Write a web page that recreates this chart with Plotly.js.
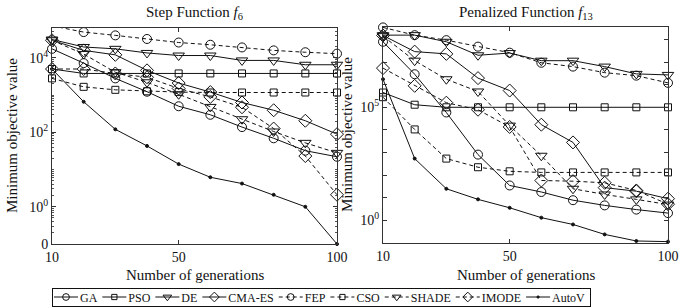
<!DOCTYPE html>
<html><head><meta charset="utf-8">
<script src="https://cdn.plot.ly/plotly-3.0.1.min.js"></script>
<style>html,body{margin:0;padding:0;background:#fff}</style>
</head><body><div id="chart" style="width:689px;height:307px"></div>
<script>
// ---- data ----
const generations = [10, 20, 30, 40, 50, 60, 70, 80, 90, 100];
const methods = ['GA', 'PSO', 'DE', 'CMA-ES', 'FEP', 'CSO', 'SHADE', 'IMODE', 'AutoV'];

// Step Function f6
const f6_GA    = [17400, 7200, 2800, 1230, 500, 295, 138, 69, 32, 22];
const f6_PSO   = [5000, 3800, 3800, 3800, 3800, 3800, 3800, 3800, 3800, 3800];
const f6_DE    = [31000, 19500, 17400, 13500, 11500, 11500, 8500, 8500, 6500, 6500];
const f6_CMAES = [29500, 15800, 12000, 4600, 2100, 1200, 630, 390, 204, 89];
const f6_FEP   = [72000, 49000, 40000, 32000, 25700, 22400, 19000, 15800, 14100, 12900];
const f6_CSO   = [2800, 1660, 1380, 1260, 1200, 1170, 1170, 1170, 1170, 1170];
const f6_SHADE = [29500, 12600, 4100, 2200, 1050, 480, 224, 105, 52, 28];
const f6_IMODE = [5000, 5000, 3800, 3000, 1500, 890, 470, 126, 23, 2.1];
const f6_AutoV = [5000, 660, 120, 43, 14, 6.2, 4.2, 2.1, 1.0, 0];

// Penalized Function f13
const f13_GA    = [7.9e7, 2.9e6, 59000, 810, 35, 18, 7.8, 4.6, 3.0, 2.1];
const f13_PSO   = [4.5e5, 1.3e5, 1.0e5, 1.0e5, 1.0e5, 1.0e5, 1.0e5, 1.0e5, 1.0e5, 1.0e5];
const f13_DE    = [1.55e8, 1.55e8, 7.9e7, 2.0e7, 2.5e7, 1.15e7, 1.15e7, 6.3e6, 3.0e6, 2.7e6];
const f13_CMAES = [1.5e8, 2.9e7, 2.3e7, 1.95e6, 5.5e5, 17000, 2800, 28, 19.5, 9.1];
const f13_FEP   = [3.4e8, 1.55e8, 9.3e7, 4.8e7, 2.6e7, 9.3e6, 6.3e6, 3.4e6, 2.5e6, 1.2e6];
const f13_CSO   = [2.8e5, 10500, 540, 224, 148, 132, 132, 132, 132, 132];
const f13_SHADE = [1.4e8, 1.15e7, 1.74e6, 5.0e5, 15500, 720, 25, 14, 8.5, 5.0];
const f13_IMODE = [5.4e6, 8.9e5, 1.6e5, 78000, 13500, 58, 54, 46, 21, 5.2];
const f13_AutoV = [1.74e6, 540, 25, 8.5, 3.6, 1.32, 0.66, 0.24, 0.123, 0.115];

// tick labels
const xTickVals = [10, 50, 100];
const f6TickVals = [0.1, 1, 100, 10000];
const f6TickText = ['0', '10<sup>0</sup>', '10<sup>2</sup>', '10<sup>4</sup>'];
const f13TickVals = [1, 1e5];
const f13TickText = ['10<sup>0</sup>', '10<sup>5</sup>'];

// ---- styles ----
const FONT = '"Liberation Serif", "Times New Roman", serif';
const INK = '#111';
const DASH = '4px,3px';
const styles = {
  'GA':     {dash: 'solid', symbol: 'circle-open', size: 9},
  'PSO':    {dash: 'solid', symbol: 'square-open', size: 7},
  'DE':     {dash: 'solid', symbol: 'triangle-down-open', size: 10},
  'CMA-ES': {dash: 'solid', symbol: 'diamond-open', size: 10},
  'FEP':    {dash: DASH, symbol: 'circle-open', size: 9},
  'CSO':    {dash: DASH, symbol: 'square-open', size: 7},
  'SHADE':  {dash: DASH, symbol: 'triangle-down-open', size: 10},
  'IMODE':  {dash: DASH, symbol: 'diamond-open', size: 10},
  'AutoV':  {dash: 'solid', symbol: 'circle', size: 3}
};
const f6Series = [f6_GA, f6_PSO, f6_DE, f6_CMAES, f6_FEP, f6_CSO, f6_SHADE, f6_IMODE, f6_AutoV];
const f13Series = [f13_GA, f13_PSO, f13_DE, f13_CMAES, f13_FEP, f13_CSO, f13_SHADE, f13_IMODE, f13_AutoV];
const zeroLevel = f6TickVals[0]; // a value of 0 is drawn at the "0" tick of the f6 axis

function mk(name, ys, xa, ya, showLegend) {
  const s = styles[name];
  return {
    x: generations,
    y: ys.map(v => v > 0 ? v : zeroLevel),
    xaxis: xa, yaxis: ya, name: name, showlegend: showLegend,
    mode: 'lines+markers', cliponaxis: false,
    line: {color: INK, width: 1, dash: s.dash},
    marker: {symbol: s.symbol, size: s.size, color: INK, line: {color: INK, width: 1}}
  };
}
const traces = [];
methods.forEach((m, i) => traces.push(mk(m, f6Series[i], 'x', 'y', true)));
methods.forEach((m, i) => traces.push(mk(m, f13Series[i], 'x2', 'y2', false)));

const W = 689, H = 307;
const axisCommon = {
  showline: true, linecolor: '#333', linewidth: 1, mirror: 'ticks',
  ticks: 'inside', ticklen: 4, tickcolor: '#333', showgrid: false, zeroline: false,
  tickfont: {family: FONT, size: 14, color: INK}, automargin: false
};
const titleFont = {family: FONT, size: 15, color: INK};
function note(text, xpx, ypx, angle) {
  return {text: text, xref: 'paper', yref: 'paper', x: xpx / W, y: 1 - ypx / H,
    xanchor: 'center', yanchor: 'middle', showarrow: false, textangle: angle || 0, font: titleFont};
}
const layout = {
  width: W, height: H, margin: {l: 0, r: 0, t: 0, b: 0, autoexpand: false},
  paper_bgcolor: '#fff', plot_bgcolor: '#fff',
  font: {family: FONT, color: INK},
  xaxis: Object.assign({}, axisCommon, {
    domain: [52 / W, 337 / W], range: [10, 100], tickmode: 'array', tickvals: xTickVals
  }),
  yaxis: Object.assign({}, axisCommon, {
    domain: [1 - 244 / H, 1 - 28 / H], type: 'log', range: [-1, 4.8],
    tickmode: 'array', tickvals: f6TickVals, ticktext: f6TickText,
    minor: {ticks: 'inside', ticklen: 2, tickcolor: '#555', dtick: 'D1'}
  }),
  xaxis2: Object.assign({}, axisCommon, {
    domain: [383 / W, 668 / W], range: [10, 100], tickmode: 'array', tickvals: xTickVals, anchor: 'y2'
  }),
  yaxis2: Object.assign({}, axisCommon, {
    domain: [1 - 243 / H, 1 - 27 / H], type: 'log', range: [-1, 8.55], anchor: 'x2',
    tickmode: 'array', tickvals: f13TickVals, ticktext: f13TickText,
    minor: {ticks: 'inside', ticklen: 4, tickcolor: '#333', dtick: 1}
  }),
  annotations: [
    note('Step Function <i>f</i><sub>6</sub>', (52 + 337) / 2, 13),
    note('Penalized Function <i>f</i><sub>13</sub>', (383 + 668) / 2, 13),
    note('Number of generations', (52 + 337) / 2, 275),
    note('Number of generations', (383 + 668) / 2, 275),
    note('Minimum objective value', 12, 136, -90),
    note('Minimum objective value', 347, 135, -90)
  ],
  legend: {
    orientation: 'h', x: 52 / W, xanchor: 'left', y: 1 - 305 / H, yanchor: 'bottom',
    bordercolor: INK, borderwidth: 1, bgcolor: '#fff',
    font: {family: FONT, size: 12, color: INK}, itemwidth: 30
  }
};

const gd = document.getElementById('chart');
function compactLegend() {
  const leg = gd.querySelector('.legend');
  if (!leg) return;
  const items = Array.from(leg.querySelectorAll('.traces'));
  const symW = 24, gap = 2, pad = 5;
  let x = 2;
  items.forEach((it) => {
    it.querySelectorAll('.legendlines path').forEach(p => p.setAttribute('d', 'M0,0h' + symW));
    it.querySelectorAll('.legendsymbols path').forEach(p => {
      p.setAttribute('transform', 'translate(' + (symW / 2) + ',0) scale(0.75)');
      p.style.vectorEffect = 'non-scaling-stroke';
    });
    const t = it.querySelector('.legendtext');
    if (t) t.setAttribute('x', symW + gap);
    const w = t ? t.getComputedTextLength() : 20;
    it.setAttribute('transform', 'translate(' + x + ',9)');
    x += symW + gap + w + pad;
  });
  const bg = leg.querySelector('rect.bg');
  if (bg) { bg.setAttribute('width', x); bg.setAttribute('height', 18); }
  leg.setAttribute('transform', 'translate(52,288)');
}
Plotly.newPlot(gd, traces, layout, {displayModeBar: false, staticPlot: true}).then(compactLegend);
</script></body></html>
